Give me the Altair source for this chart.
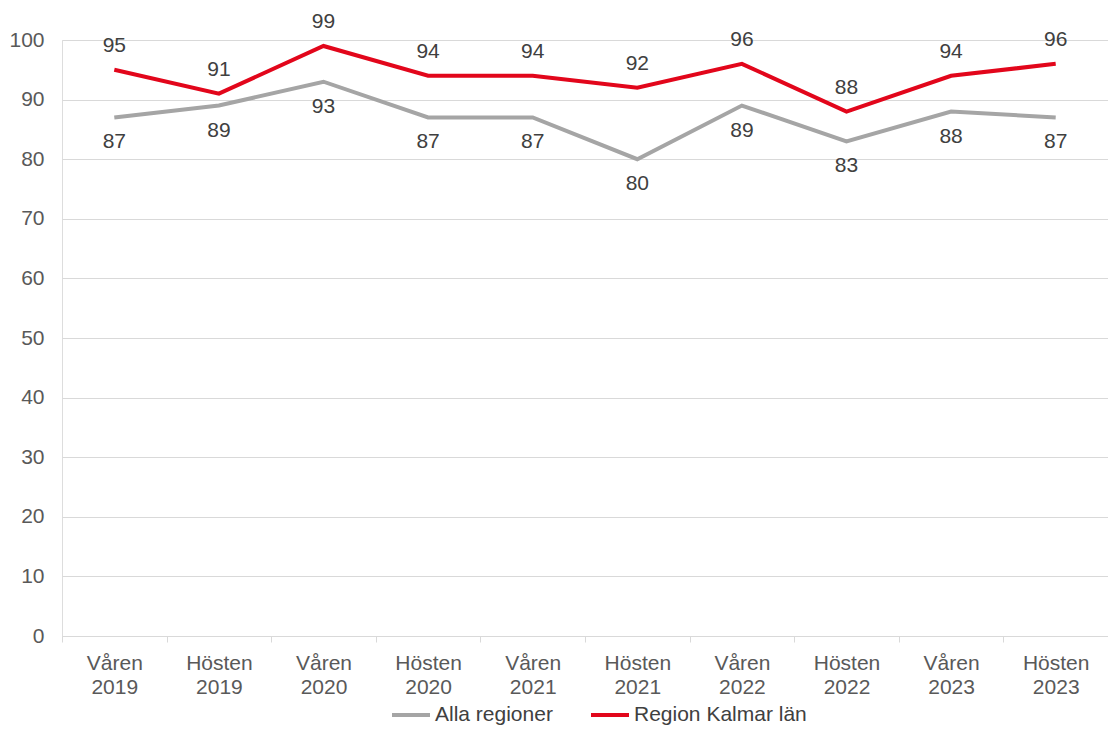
import altair as alt
import pandas as pd

periods = ["Våren 2019", "Hösten 2019", "Våren 2020", "Hösten 2020", "Våren 2021",
           "Hösten 2021", "Våren 2022", "Hösten 2022", "Våren 2023", "Hösten 2023"]
alla = [87, 89, 93, 87, 87, 80, 89, 83, 88, 87]
kalmar = [95, 91, 99, 94, 94, 92, 96, 88, 94, 96]
series_names = ["Alla regioner", "Region Kalmar län"]
series_colors = ["#A5A5A5", "#E2061B"]

rows = []
for p, a, k in zip(periods, alla, kalmar):
    rows.append({"period": p, "serie": series_names[0], "value": a})
    rows.append({"period": p, "serie": series_names[1], "value": k})
df = pd.DataFrame(rows)

FONT = "Liberation Sans"
FS = 21

x = alt.X("period:N", sort=periods, title=None,
          axis=alt.Axis(labelExpr="split(datum.label, ' ')", labelAngle=0,
                        labelFontSize=FS, labelColor="#595959", labelFont=FONT,
                        labelLineHeight=24, labelPadding=10,
                        tickBand="extent", tickColor="#D9D9D9", tickSize=6,
                        domainColor="#D9D9D9", domainWidth=1, grid=False))
y = alt.Y("value:Q", title=None,
          scale=alt.Scale(domain=[0, 100], nice=False),
          axis=alt.Axis(values=list(range(0, 101, 10)), labelFontSize=FS,
                        labelColor="#595959", labelFont=FONT, labelPadding=18,
                        ticks=False, domain=False, gridColor="#D9D9D9", gridWidth=1))
color = alt.Color("serie:N", title=None,
                  scale=alt.Scale(domain=series_names, range=series_colors),
                  legend=alt.Legend(orient="none", direction="horizontal",
                                    legendX=328, legendY=654,
                                    symbolType="stroke", symbolSize=1444,
                                    symbolStrokeWidth=4, labelFontSize=FS,
                                    labelColor="#404040", labelFont=FONT,
                                    labelLimit=0, labelOffset=3, columnPadding=30))

base = alt.Chart(df)
lines = base.mark_line(strokeWidth=4).encode(x=x, y=y, color=color)

lab_hi = base.transform_filter(alt.datum.serie == series_names[1]).mark_text(
    dy=-24, fontSize=FS, color="#404040", font=FONT).encode(
    x=alt.X("period:N", sort=periods), y="value:Q", text="value:Q")
lab_lo = base.transform_filter(alt.datum.serie == series_names[0]).mark_text(
    dy=25, fontSize=FS, color="#404040", font=FONT).encode(
    x=alt.X("period:N", sort=periods), y="value:Q", text="value:Q")

chart = alt.layer(lines, lab_hi, lab_lo).properties(
    width=1046, height=596,
    autosize=alt.AutoSizeParams(type="none"),
    padding={"left": 54, "top": 32, "right": 0, "bottom": 89},
).configure_view(stroke=None).configure(background="white")

chart.save("out.html", embed_options={"renderer": "svg", "actions": False})
